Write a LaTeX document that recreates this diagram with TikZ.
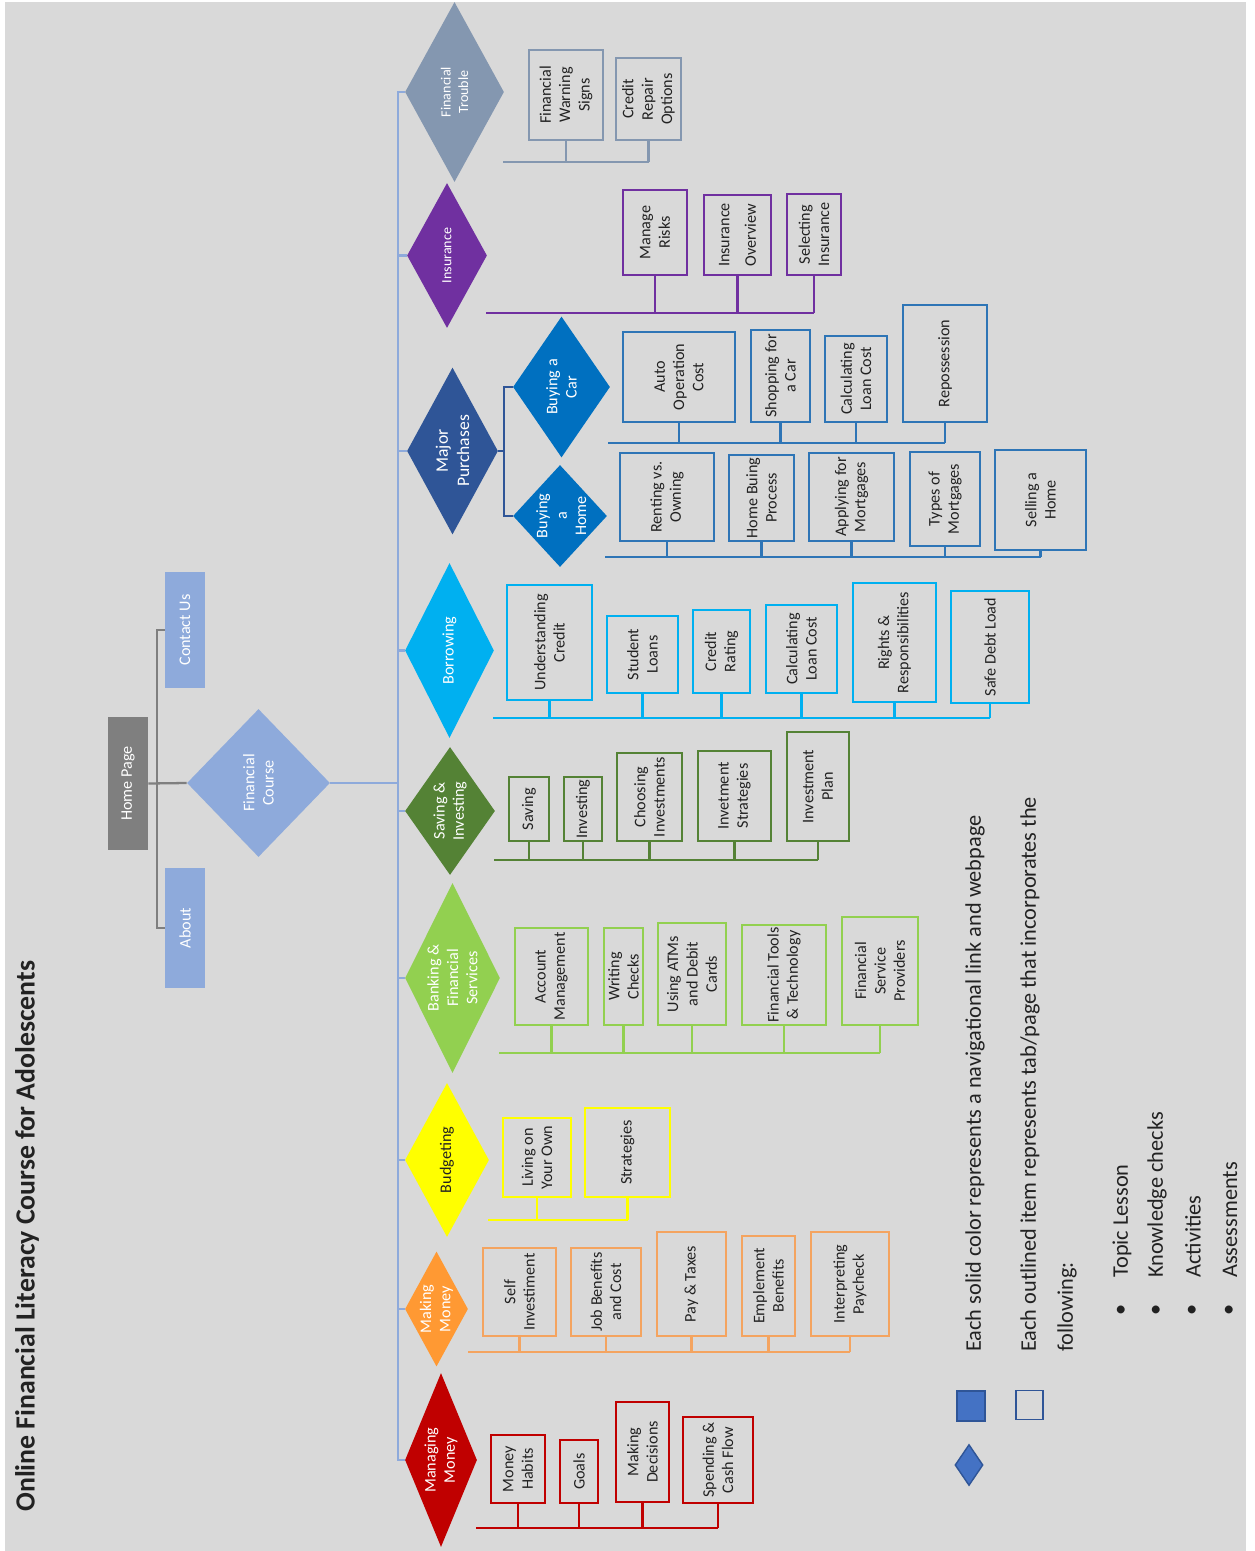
\documentclass[tikz,border=0pt]{standalone}
\usepackage{fontspec}
\setmainfont{Carlito}
\usetikzlibrary{shapes.geometric}
\newcommand{\pxu}{0.2mm}
\newcommand{\boxfont}{\fontsize{9.2}{11}\selectfont}
\newcommand{\nosize}[1]{\makebox[0pt]{\raisebox{-.5\height}[0pt][0pt]{\begin{tabular}[b]{@{}c@{}}#1\end{tabular}}}}
\definecolor{bgc}{HTML}{D9D9D9}
\definecolor{trunkc}{HTML}{8EAADB}
\definecolor{homec}{HTML}{7F7F7F}
\definecolor{ftc}{HTML}{8497B0}
\definecolor{insc}{HTML}{7030A0}
\definecolor{mpc}{HTML}{2F5597}
\definecolor{buyc}{HTML}{0070C0}
\definecolor{buyl}{HTML}{2E75B6}
\definecolor{borc}{HTML}{00B0F0}
\definecolor{sic}{HTML}{548235}
\definecolor{bfsc}{HTML}{92D050}
\definecolor{budc}{HTML}{FFFF00}
\definecolor{mkmc}{HTML}{FF9933}
\definecolor{mkml}{HTML}{F4A460}
\definecolor{mgmc}{HTML}{C00000}
\definecolor{legc}{HTML}{4472C4}
\definecolor{txt}{HTML}{222222}

\begin{document}
\begin{tikzpicture}[x=\pxu, y=-\pxu,
    tab/.style n args={3}{draw=#1, line width=1.1pt, rotate=90, align=center,
      inner sep=1pt, text=txt, font=\boxfont,
      minimum height=#2*\pxu, minimum width=#3*\pxu},
    topic/.style n args={4}{diamond, aspect=2, fill=#1, text=#2, rotate=90,
      align=center, inner sep=0pt, font=\boxfont,
      minimum height=#3*\pxu, minimum width=#4*\pxu},
    page/.style n args={3}{fill=#1, text=white, rotate=90, inner sep=0pt,
      font=\boxfont, minimum height=#2*\pxu, minimum width=#3*\pxu},
    bus/.style={draw=#1, line width=1.3pt},
    trunk/.style={draw=trunkc, line width=1.3pt},
    legtxt/.style={rotate=90, anchor=west, inner sep=0pt, text=txt,
      font=\fontsize{12.7}{15}\selectfont}]
  \useasboundingbox (0,0) rectangle (1254,1551);
  \fill[bgc] (5,2) rectangle (1246,1551);

  \node[rotate=90, anchor=west, inner sep=0pt, text=txt,
    font=\fontsize{15.8}{20}\selectfont\bfseries] (title) at (27,1512)
    {Online Financial Literacy Course for Adolescents};

  % home page and course
  \node[page={homec}{40}{133}] (hp) at (128,783.5) {Home Page};
  \node[page={trunkc}{40}{116}] (cu) at (185,630) {Contact Us};
  \node[page={trunkc}{40}{120}] (ab) at (185,928) {About};
  \node[topic={trunkc}{white}{143}{148}] (fc) at (258.5,783) {Financial\\Course};
  \draw[homec, line width=1.3pt] (cu.north) -| (157,783) |- (ab.north);
  \draw[homec, line width=1.3pt] (hp.south) -- (fc.north);
  \coordinate (trunk) at (398,783);
  \draw[trunk] (fc.south) -- (trunk);

  % topics
  \node[topic={ftc}{white}{99}{180}, font=\fontsize{8}{10}\selectfont] (ft) at (454.5,92) {Financial\\Trouble};
  \node[topic={insc}{white}{80}{145}, font=\fontsize{8}{10}\selectfont] (ins) at (447,255.5) {Insurance};
  \node[topic={mpc}{white}{91}{167}, font=\fontsize{10}{12}\selectfont] (mp) at (452.5,451) {Major\\Purchases};
  \node[topic={buyc}{white}{97}{141}] (bcar) at (561.5,387) {Buying a\\Car};
  \node[topic={buyc}{white}{94}{102}] (bhome) at (560,516) {\nosize{Buying\\a\\Home}};
  \node[topic={borc}{white}{89}{175}] (bor) at (449.5,650.5) {Borrowing};
  \node[topic={sic}{white}{90}{128}] (si) at (450,811) {Saving \&\\Investing};
  \node[topic={bfsc}{white}{95}{190}] (bfs) at (452.5,978) {Banking \&\\Financial\\Services};
  \node[topic={budc}{txt}{84}{154}] (bud) at (447,1160) {Budgeting};
  \node[topic={mkmc}{white}{63}{112}] (mkm) at (436.5,1309) {Making\\Money};
  \node[topic={mgmc}{white}{72}{174}] (mgm) at (441,1460) {Managing\\Money};

  \draw[trunk] (ft.north) -- (ft.north -| trunk) -- (mgm.north -| trunk) -- (mgm.north);
  \foreach \t in {ins,mp,bor,si,bfs,bud,mkm}
    \draw[trunk] (\t.north -| trunk) -- (\t.north);
  \coordinate (mpj) at (504,451);
  \draw[bus=mpc] (mp.south) -- (mpj);
  \draw[bus=mpc] (bcar.north) -| (mpj) |- (bhome.north);

  % financial trouble
  \node[tab={ftc}{74}{90}] (fws) at (566,95) {Financial\\Warning\\Signs};
  \node[tab={ftc}{65}{82}] (fcr) at (648.5,99) {Credit\\Repair\\Options};
  \coordinate (ftbus) at (503,162);
  \draw[bus=ftc] (ftbus) -- (fcr.west |- ftbus);
  \foreach \b in {fws,fcr} \draw[bus=ftc] (\b.west) -- (\b.west |- ftbus);

  % insurance
  \node[tab={insc}{64}{85}] (imr) at (655,232.5) {Manage\\Risks};
  \node[tab={insc}{67}{80}] (iov) at (737.5,235) {Insurance\\[4pt]Overview};
  \node[tab={insc}{54}{81}] (isi) at (814,234.5) {Selecting\\Insurance};
  \coordinate (insbus) at (486,313);
  \draw[bus=insc] (insbus) -- (isi.west |- insbus);
  \foreach \b in {imr,iov,isi} \draw[bus=insc] (\b.west) -- (\b.west |- insbus);

  % buying a car
  \node[tab={buyl}{112}{90}] (aoc) at (679,377) {Auto\\Operation\\Cost};
  \node[tab={buyl}{59}{92}] (sfc) at (780.5,376) {Shopping for\\a Car};
  \node[tab={buyl}{62}{86}] (clc) at (856,379) {Calculating\\Loan Cost};
  \node[tab={buyl}{84}{117}] (rep) at (945,363.5) {Repossession};
  \coordinate (carbus) at (608,443);
  \draw[bus=buyl] (carbus) -- (rep.west |- carbus);
  \foreach \b in {aoc,sfc,clc,rep} \draw[bus=buyl] (\b.west) -- (\b.west |- carbus);

  % buying a home
  \node[tab={buyl}{94}{88}] (rvo) at (667,497) {Renting vs.\\Owning};
  \node[tab={buyl}{65}{86}] (hbp) at (761.5,498) {Home Buing\\Process};
  \node[tab={buyl}{85}{88}] (afm) at (851.5,497) {Applying for\\Mortgages};
  \node[tab={buyl}{70}{94}] (tom) at (945,499) {Types of\\Mortgages};
  \node[tab={buyl}{91}{100}] (sah) at (1040.5,500) {Selling a\\Home};
  \coordinate (homebus) at (605,557);
  \draw[bus=buyl] (homebus) -- (sah.west |- homebus);
  \foreach \b in {rvo,hbp,afm,tom,sah} \draw[bus=buyl] (\b.west) -- (\b.west |- homebus);

  % borrowing
  \node[tab={borc}{85}{115}] (uc) at (549.5,642.5) {Understanding\\Credit};
  \node[tab={borc}{71}{77}] (sl) at (642.5,654.5) {Student\\Loans};
  \node[tab={borc}{57}{83}] (cr) at (721.5,651.5) {Credit\\Rating};
  \node[tab={borc}{71}{88}] (blc) at (801.5,649) {Calculating\\Loan Cost};
  \node[tab={borc}{83}{119}] (rr) at (894.5,642.5) {Rights \&\\Responsibilities};
  \node[tab={borc}{78}{112}] (sdl) at (990,647) {Safe Debt Load};
  \coordinate (borbus) at (493,718);
  \draw[bus=borc] (borbus) -- (sdl.west |- borbus);
  \foreach \b in {uc,sl,cr,blc,rr,sdl} \draw[bus=borc] (\b.west) -- (\b.west |- borbus);

  % saving and investing
  \node[tab={sic}{40}{64}] (sav) at (529,809) {Saving};
  \node[tab={sic}{38}{64}] (inv) at (583,809) {Investing};
  \node[tab={sic}{65}{88}] (ci) at (649.5,797) {Choosing\\Investments};
  \node[tab={sic}{73}{90}] (is) at (734.5,796) {Invetment\\Strategies};
  \node[tab={sic}{62}{109}] (ip) at (818,786.5) {Investment\\Plan};
  \coordinate (sibus) at (494,860);
  \draw[bus=sic] (sibus) -- (ip.west |- sibus);
  \foreach \b in {sav,inv,ci,is,ip} \draw[bus=sic] (\b.west) -- (\b.west |- sibus);

  % banking and financial services
  \node[tab={bfsc}{73}{97}] (am) at (551.5,976.5) {Account\\Management};
  \node[tab={bfsc}{39}{97}] (wc) at (623.5,976.5) {Writing\\Checks};
  \node[tab={bfsc}{68}{102}] (atm) at (692,974) {Using ATMs\\and Debit\\Cards};
  \node[tab={bfsc}{84}{100}] (ftt) at (784,975) {Financial Tools\\\& Technology};
  \node[tab={bfsc}{76}{108}] (fsp) at (880,971) {Financial\\Service\\Providers};
  \coordinate (bfsbus) at (499,1053);
  \draw[bus=bfsc] (bfsbus) -- (fsp.west |- bfsbus);
  \foreach \b in {am,wc,atm,ftt,fsp} \draw[bus=bfsc] (\b.west) -- (\b.west |- bfsbus);

  % budgeting
  \node[tab={budc}{68}{79}] (lyo) at (537,1157.5) {Living on\\Your Own};
  \node[tab={budc}{85}{89}] (str) at (627.5,1152.5) {Strategies};
  \coordinate (budbus) at (488,1220);
  \draw[bus=budc] (budbus) -- (str.west |- budbus);
  \foreach \b in {lyo,str} \draw[bus=budc] (\b.west) -- (\b.west |- budbus);

  % making money
  \node[tab={mkml}{73}{88}] (sin) at (519.5,1292) {Self\\Investiment};
  \node[tab={mkml}{70}{88}] (jbc) at (606,1292) {Job Benefits\\and Cost};
  \node[tab={mkml}{69}{104}] (pt) at (691.5,1284) {Pay \& Taxes};
  \node[tab={mkml}{53}{100}] (eb) at (768.5,1286) {Emplement\\Benefits};
  \node[tab={mkml}{78}{104}] (ipc) at (850,1284) {Interpreting\\Paycheck};
  \coordinate (mkmbus) at (468,1352);
  \draw[bus=mkml] (mkmbus) -- (ipc.west |- mkmbus);
  \foreach \b in {sin,jbc,pt,eb,ipc} \draw[bus=mkml] (\b.west) -- (\b.west |- mkmbus);

  % managing money
  \node[tab={mgmc}{54}{68}] (mh) at (518,1469) {Money\\Habits};
  \node[tab={mgmc}{38}{63}] (go) at (579,1471.5) {Goals};
  \node[tab={mgmc}{53}{100}] (md) at (642.5,1452) {Making\\Decisions};
  \node[tab={mgmc}{70}{86}] (scf) at (718,1460) {Spending \&\\Cash Flow};
  \coordinate (mgmbus) at (476,1528);
  \draw[bus=mgmc] (mgmbus) -- (scf.west |- mgmbus);
  \foreach \b in {mh,go,md,scf} \draw[bus=mgmc] (\b.west) -- (\b.west |- mgmbus);

  % legend
  \node[diamond, aspect=1, fill=legc, draw=mpc, line width=0.8pt, inner sep=0pt,
    minimum width=28*\pxu, minimum height=41*\pxu] (legd) at (969,1465) {};
  \node[rectangle, fill=legc, draw=mpc, line width=0.8pt, inner sep=0pt,
    minimum width=28*\pxu, minimum height=30*\pxu] (legs) at (971,1406) {};
  \node[rectangle, draw=mpc, line width=1.1pt, inner sep=0pt,
    minimum width=27*\pxu, minimum height=29*\pxu] (lego) at (1029.5,1405) {};
  \node[legtxt] (leg1) at (975,1352) {Each solid color represents a navigational link and webpage};
  \node[legtxt] (leg2) at (1030,1352) {Each outlined item represents tab/page that incorporates the};
  \node[legtxt] (leg3) at (1067,1352) {following:};
  \foreach \y/\w [count=\i] in {1122/Topic Lesson,1157/Knowledge checks,1193/Activities,1230/Assessments} {
    \node[legtxt, anchor=center] (dot\i) at (\y,1310) {\textbullet};
    \node[legtxt] (item\i) at (\y,1278) {\w};
  }
\end{tikzpicture}
\end{document}
